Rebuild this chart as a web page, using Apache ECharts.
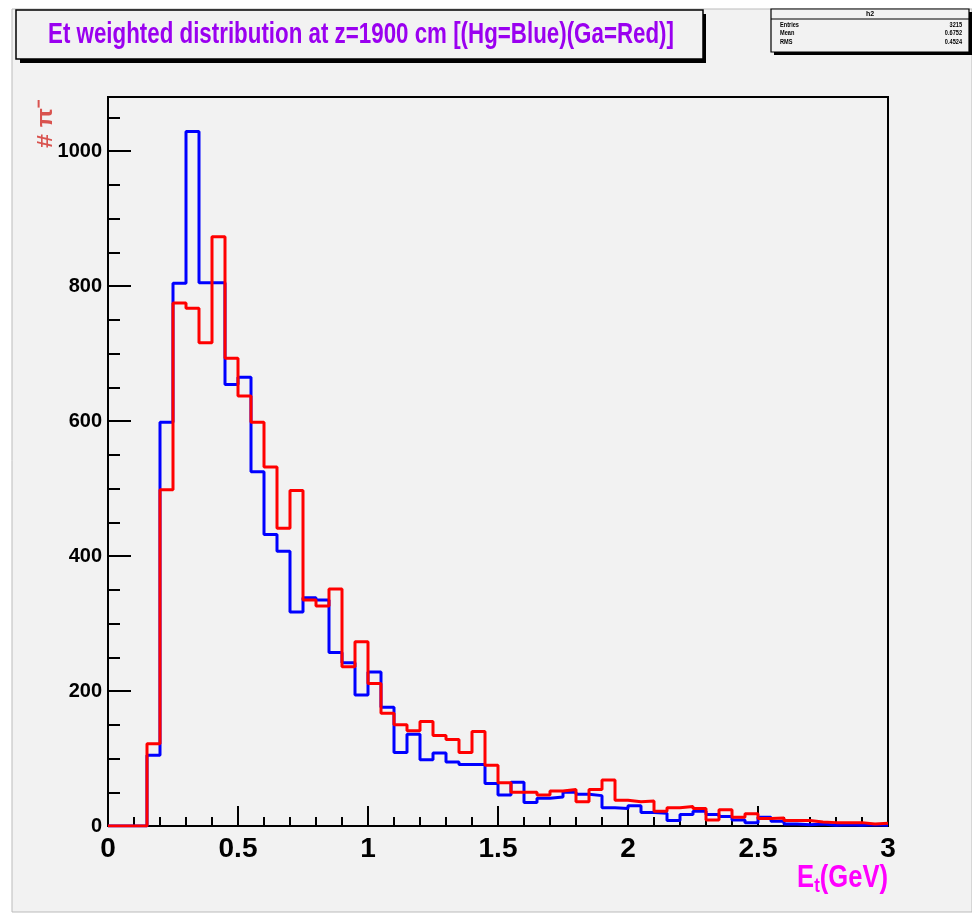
<!DOCTYPE html>
<html>
<head>
<meta charset="utf-8">
<script src="https://cdn.jsdelivr.net/npm/echarts@6/dist/echarts.min.js"></script>
<style>
  html, body { margin: 0; padding: 0; background: #ffffff; }
  #chart { width: 972px; height: 915px; }
</style>
</head>
<body>
<div id="chart"></div>
<script>
// 60 bins of 0.05 GeV between 0 and 3
const binWidth = 0.05
// Hg (blue) counts per bin
const hgCounts = [
  0, 0, 0, 105, 598, 804, 1029, 805, 805, 654,
  665, 525, 432, 407, 317, 338, 335, 257, 242, 194,
  228, 176, 109, 136, 98, 108, 95, 91, 91, 63,
  46, 65, 35, 41, 43, 50, 47, 45, 27, 26,
  30, 20, 19, 8, 17, 22, 17, 14, 9, 5,
  13, 7, 3, 2, 3, 1, 2, 1, 2, 1
]
// Ga (red) counts per bin
const gaCounts = [
  0, 0, 0, 122, 498, 775, 767, 716, 873, 693,
  637, 598, 532, 441, 497, 335, 326, 351, 236, 273,
  211, 167, 150, 141, 155, 134, 128, 109, 140, 90,
  64, 50, 50, 46, 52, 54, 36, 54, 68, 38,
  36, 37, 22, 27, 29, 26, 9, 24, 13, 18,
  11, 12, 8, 8, 6, 5, 5, 5, 3, 4
]
const statsLabels = ['Entries', 'Mean', 'RMS']
const statsValues = ['3215', '0.6752', '0.4524']

const sans = '"Liberation Sans", Arial, Helvetica, sans-serif'

// histogram -> step points (left edge of every bin, plus the last right edge)
const toSteps = counts => {
  const pts = counts.map((v, i) => [i * binWidth, v])
  pts.push([counts.length * binWidth, counts[counts.length - 1]])
  return pts
}

const chart = echarts.init(document.getElementById('chart'))

// stats box rows
const statsTexts = []
statsLabels.forEach((name, i) => {
  statsTexts.push({ type: 'text', x: 780, y: 25 + i * 8.5, scaleX: 0.8, style: { text: name, font: 'bold 7px ' + sans, fill: '#000', textVerticalAlign: 'middle' } })
  statsTexts.push({ type: 'text', x: 962, y: 25 + i * 8.5, scaleX: 0.8, style: { text: statsValues[i], font: 'bold 7px ' + sans, fill: '#000', textAlign: 'right', textVerticalAlign: 'middle' } })
})

const option = {
  backgroundColor: '#ffffff',
  animation: false,
  grid: {
    left: 108, right: 84, top: 97, bottom: 89,
    show: true, borderColor: '#000', borderWidth: 2, backgroundColor: 'transparent'
  },
  xAxis: {
    type: 'value', min: 0, max: 3, interval: 0.5,
    axisLine: { lineStyle: { color: '#000', width: 2 } },
    axisTick: { inside: true, length: 20, lineStyle: { color: '#000', width: 2 } },
    minorTick: { show: true, splitNumber: 5, length: 9, lineStyle: { color: '#000', width: 2 } },
    splitLine: { show: false },
    axisLabel: { margin: 9, color: '#000', fontSize: 28, fontWeight: 'bold', fontFamily: sans, showMaxLabel: true }
  },
  yAxis: {
    type: 'value', min: 0, max: 1080, interval: 200,
    axisLine: { lineStyle: { color: '#000', width: 2 } },
    axisTick: { inside: true, length: 23, lineStyle: { color: '#000', width: 2 } },
    minorTick: { show: true, splitNumber: 4, length: 12, lineStyle: { color: '#000', width: 2 } },
    splitLine: { show: false },
    axisLabel: {
      margin: 6, color: '#000', fontSize: 20, fontWeight: 'bold', fontFamily: sans, showMaxLabel: false,
      formatter: v => String(v)
    }
  },
  graphic: [
    // pad background
    { type: 'rect', z: -10, shape: { x: 12, y: 9, width: 960, height: 903 }, style: { fill: '#f2f2f2', stroke: '#bbbbbb', lineWidth: 1 } },
    // title box with shadow
    { type: 'rect', shape: { x: 20, y: 14, width: 686, height: 49 }, style: { fill: '#000' } },
    { type: 'rect', shape: { x: 16, y: 10, width: 687, height: 49 }, style: { fill: '#f2f2f2', stroke: '#000', lineWidth: 1.5 } },
    {
      type: 'text', x: 361, y: 35, scaleX: 0.77,
      style: { text: 'Et weighted distribution at z=1900 cm [(Hg=Blue)(Ga=Red)]', font: 'bold 29px ' + sans, fill: '#9a00f0', textAlign: 'center', textVerticalAlign: 'middle' }
    },
    // stats box
    { type: 'rect', shape: { x: 774, y: 12, width: 198, height: 43 }, style: { fill: '#000' } },
    { type: 'rect', shape: { x: 771, y: 9, width: 198, height: 43 }, style: { fill: '#f2f2f2', stroke: '#000', lineWidth: 1.2 } },
    { type: 'line', shape: { x1: 771, y1: 19, x2: 969, y2: 19 }, style: { stroke: '#000', lineWidth: 1 } },
    { type: 'text', x: 870, y: 14.5, style: { text: 'h2', font: 'bold 7px ' + sans, fill: '#000', textAlign: 'center', textVerticalAlign: 'middle' } },
    ...statsTexts,
    // y axis title
    {
      type: 'text', x: 46, y: 124, rotation: Math.PI / 2, scaleY: 0.9,
      style: { text: '# π⁻', font: 'bold 25px ' + sans, fill: '#d9534f', textAlign: 'center', textVerticalAlign: 'middle' }
    },
    // x axis title
    {
      type: 'text', x: 888, y: 878, scaleX: 0.8,
      style: {
        text: '{e|E}{s|t}{e|(GeV)}', textAlign: 'right', textVerticalAlign: 'middle',
        rich: {
          e: { font: 'bold 32px ' + sans, fill: '#ff00ff' },
          s: { font: 'bold 21px ' + sans, fill: '#ff00ff', padding: [16, 0, 0, 0] }
        }
      }
    }
  ],
  series: [
    {
      name: 'Hg', type: 'line', step: 'end', symbol: 'none',
      data: toSteps(hgCounts),
      lineStyle: { color: '#0000ff', width: 3 }
    },
    {
      name: 'Ga', type: 'line', step: 'end', symbol: 'none',
      data: toSteps(gaCounts),
      lineStyle: { color: '#ff0000', width: 3 }
    }
  ]
}

chart.setOption(option)
</script>
</body>
</html>
